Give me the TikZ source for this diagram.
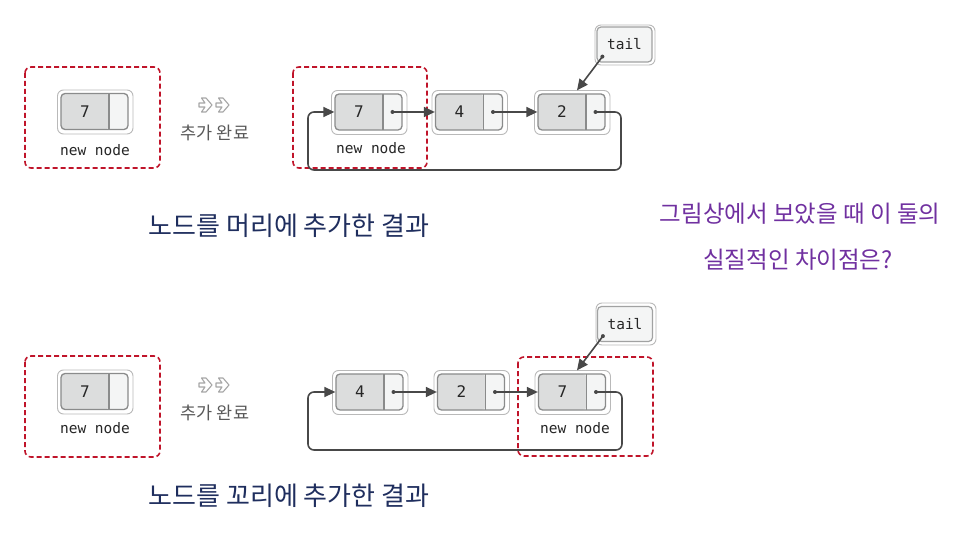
\documentclass[tikz,border=0pt]{standalone}
\usepackage{fontspec}
\newfontfamily\kr{Noto Sans CJK KR}
\newfontfamily\mono{DejaVu Sans Mono}
\usetikzlibrary{arrows.meta,calc}
\definecolor{cellL}{HTML}{DCDDDD}
\definecolor{cellR}{HTML}{F4F5F5}
\definecolor{cellB}{HTML}{8A8B8B}
\definecolor{conncol}{HTML}{484848}
\definecolor{redd}{HTML}{C0142A}
\definecolor{navy}{HTML}{1F2E5E}
\definecolor{purp}{HTML}{7030A0}
\tikzset{
  lbox/.style={rectangle, rounded corners=4pt, minimum width=67pt, minimum height=36pt,
    inner sep=0pt, draw=cellB, line width=1.3pt, fill=cellR,
    path picture={\fill[cellL] (path picture bounding box.north west) rectangle ([xshift=-19pt]path picture bounding box.south east);
      \draw[cellB, line width=1.1pt] ([xshift=-19pt]path picture bounding box.north east) -- ([xshift=-19pt]path picture bounding box.south east);}},
  ring/.style={fill=white, draw=gray!55, line width=0.9pt, rounded corners=6pt},
  numtxt/.style={font=\mono\fontsize{16}{16}\selectfont, text=black!85},
  mtxt/.style={font=\mono\fontsize{14.5}{15}\selectfont, text=black!85},
  conn/.style={conncol, line width=1.6pt, -{Triangle[length=11pt,width=10pt]}},
  dashbox/.style={redd, line width=1.6pt, dash pattern=on 5pt off 3pt, rounded corners=6pt},
  tailbox/.style={rectangle, rounded corners=4pt, minimum width=55pt, minimum height=35pt,
    inner sep=0pt, draw=cellB!80, line width=1.2pt, fill=cellR, font=\mono\fontsize{14.5}{14}\selectfont, text=black!85},
  done/.style={font=\kr\fontsize{17.5}{18}\selectfont, text=black!65},
  title/.style={font=\kr\fontsize{26}{27}\selectfont, text=navy},
  hand/.style={font=\kr\fontsize{23.5}{24}\selectfont, text=purp},
  chev/.style={draw=gray!70, line width=1.1pt, line join=round}
}
\newcommand\lnode[4]{%
  \draw[ring] (#2-37,#3-21.5) rectangle (#2+38.5,#3+22.5);
  \node[lbox] (#1) at (#2,#3) {};
  \node[numtxt] (#1t) at ([xshift=-9.5pt]#1.center) {#4};
  \coordinate (#1d) at ([xshift=24pt]#1.center);
}
\newcommand\chevs[2]{%
  \foreach \dx in {0,17}{
  \draw[chev] (#1+\dx,#2-2) -- (#1+\dx+6,#2-2) -- (#1+\dx+2.5,#2-7) -- (#1+\dx+7,#2-7) -- (#1+\dx+13,#2) -- (#1+\dx+7,#2+7) -- (#1+\dx+2.5,#2+7) -- (#1+\dx+6,#2+2) -- (#1+\dx,#2+2) -- cycle;}
}
\newcommand\ptr[1]{\fill[conncol] (#1) circle (2pt);}
\begin{document}
\begin{tikzpicture}[x=1pt,y=-1pt]
\useasboundingbox[fill=white] (0,0) rectangle (960,534);

% ---------- top: add at head ----------
\draw[dashbox] (25,67) rectangle (160,168);
\lnode{a7}{94.5}{111.5}{7}
\node[mtxt] (a7l) at (95,150) {new node};
\chevs{199}{105}
\node[done] (adone) at (215,133) {추가 완료};

\draw[dashbox] (293,67) rectangle (427,168);
\lnode{h7}{368.5}{112}{7}
\lnode{h4}{469}{112}{4}
\lnode{h2}{571.5}{112}{2}
\node[mtxt] (h7l) at (371,148) {new node};
\draw[ring] (595,25) rectangle (655,65);
\node[tailbox] (tail1) at (624.5,44.5) {tail};
\ptr{h7d}\ptr{h4d}\ptr{h2d}
\draw[conn] (h7d) -- (h4.west);
\draw[conn] (h4d) -- (h2.west);
\draw[conn, rounded corners=6pt] (h2d) -| (621,170) -| (308,112) -- (h7.west);
\coordinate (t1s) at ([shift={(6pt,6pt)}]tail1.south west);
\ptr{t1s}
\draw[conn] (t1s) -- ([xshift=5.5pt,yshift=3pt]h2.north);

\node[title] (t1) at (289,226) {노드를 머리에 추가한 결과};

% ---------- question ----------
\node[hand] (q1) at (800,214) {그림상에서 보았을 때 이 둘의};
\node[hand] (q2) at (798,260) {실질적인 차이점은?};

% ---------- bottom: add at tail ----------
\draw[dashbox] (25,356) rectangle (160,457);
\lnode{b0}{94.5}{391.5}{7}
\node[mtxt] (b0l) at (95,428) {new node};
\chevs{199}{385}
\node[done] (bdone) at (215,413) {추가 완료};

\lnode{b4}{369.5}{392}{4}
\lnode{b2}{471}{392}{2}
\lnode{b7}{572}{392}{7}
\draw[dashbox] (518,357) rectangle (653,456);
\node[mtxt] (b7l) at (575,428) {new node};
\draw[ring] (596,303) rectangle (656,345);
\node[tailbox] (tail2) at (625,324) {tail};
\ptr{b4d}\ptr{b2d}\ptr{b7d}
\draw[conn] (b4d) -- (b2.west);
\draw[conn] (b2d) -- (b7.west);
\draw[conn, rounded corners=6pt] (b7d) -| (622,450) -| (308,392) -- (b4.west);
\coordinate (t2s) at ([shift={(6pt,6pt)}]tail2.south west);
\ptr{t2s}
\draw[conn] (t2s) -- ([xshift=5pt,yshift=3pt]b7.north);

\node[title] (t2) at (289,496) {노드를 꼬리에 추가한 결과};
\end{tikzpicture}
\end{document}
